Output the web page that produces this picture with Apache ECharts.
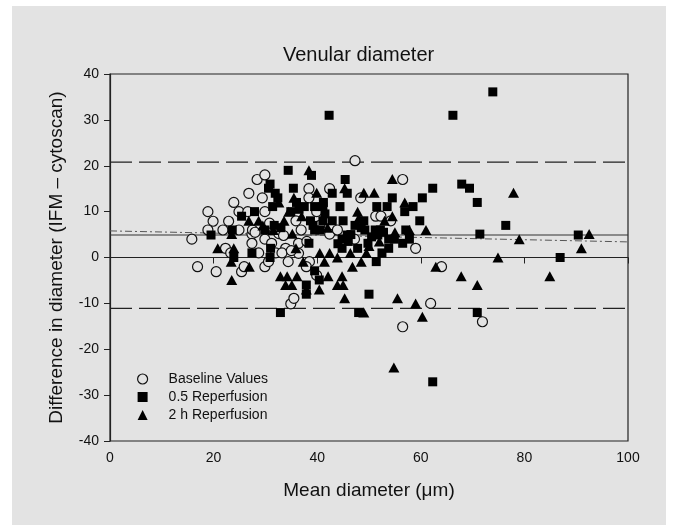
<!DOCTYPE html>
<html>
<head>
<meta charset="utf-8">
<script src="https://cdn.jsdelivr.net/npm/echarts@6/dist/echarts.min.js"></script>
<style>
  html, body { margin: 0; padding: 0; background: #fff; }
  #frame { position: absolute; left: 12px; top: 6px; width: 654px; height: 519px; background: #e3e3e3; }
  #chart { position: absolute; left: 0; top: 0; width: 677px; height: 531px; }
</style>
</head>
<body>
<div id="frame"></div>
<div id="chart"></div>
<script>
// [mean diameter, difference]
const baseline = [
  [15.8, 4.0], [16.9, -2.0], [18.9, 10.0], [19.9, 7.9], [18.9, 6.0], [20.5, -3.1], [21.8, 6.0],
  [22.9, 7.9], [23.9, 12.0], [22.3, 2.0], [23.3, 1.0], [24.9, 10.0], [24.9, 6.0], [25.4, -3.1],
  [25.9, -2.0], [26.8, 14.0], [27.4, 5.1], [27.4, 3.1], [28.4, 17.0], [29.4, 13.0], [29.9, 18.0],
  [29.9, 10.0], [29.9, 4.0], [28.7, 1.0], [29.9, -2.0], [30.6, -0.9], [27.5, 6.0], [26.6, 10.0],
  [31.2, 3.1], [32.6, 5.2], [32.0, 1.0], [33.9, 2.0], [33.2, 1.0], [34.4, -0.9], [34.9, -10.1],
  [35.5, -8.9], [35.9, 8.0], [36.4, 3.1], [36.4, 0.9], [36.9, 6.0], [38.4, 15.0], [38.4, 13.0],
  [38.5, -0.9], [37.9, -2.0], [39.9, 10.0], [39.9, -3.9], [42.4, 15.0], [42.4, 5.1], [43.9, 6.0],
  [47.2, 4.0], [47.3, 21.1], [48.4, 13.0], [51.3, 9.0], [52.3, 9.0], [54.2, 8.0], [56.5, 17.0],
  [59.0, 2.0], [56.5, -15.1], [61.9, -10.0], [64.0, -2.0], [71.9, -14.0], [28.0, 5.5], [31.5, 6.5],
  [30.8, 7.5], [35.0, 1.5], [38.0, 3.5], [40.5, 7.0], [33.5, 4.8]
];
const reperf05 = [
  [42.3, 31.0], [66.2, 31.0], [73.9, 36.1], [34.4, 19.0], [38.9, 17.9], [45.4, 17.0], [30.9, 16.0],
  [30.6, 15.1], [35.4, 15.1], [31.9, 14.0], [32.4, 13.0], [42.9, 14.0], [45.8, 14.0], [62.3, 15.1],
  [67.9, 16.0], [69.4, 15.1], [70.9, 12.0], [60.3, 13.0], [54.5, 13.0], [58.5, 11.1], [53.5, 11.1],
  [51.5, 11.1], [44.4, 11.1], [41.1, 11.1], [37.5, 11.1], [39.5, 11.1], [31.4, 11.1], [27.9, 10.0],
  [34.9, 10.0], [36.0, 12.0], [41.2, 12.0], [38.7, 8.0], [41.1, 8.0], [42.9, 8.0], [45.0, 8.0],
  [56.9, 10.0], [59.8, 8.0], [76.4, 7.0], [47.3, 7.0], [49.0, 8.0], [49.2, 6.0], [51.2, 6.0],
  [52.2, 6.0], [25.4, 9.0], [19.5, 4.9], [23.6, 6.0], [29.9, 6.0], [31.7, 7.0], [39.2, 7.0],
  [39.5, 6.0], [40.5, 6.0], [45.8, 4.9], [44.8, 4.0], [44.8, 2.0], [47.8, 2.0], [49.8, 3.1],
  [51.7, 4.9], [53.8, 4.0], [54.9, 4.0], [56.5, 3.1], [57.1, 6.0], [57.8, 4.0], [53.8, 2.0],
  [52.5, 1.0], [51.4, -0.9], [71.4, 5.1], [90.4, 4.9], [86.9, 0.0], [27.4, 1.0], [23.9, 0.0],
  [30.9, 0.0], [31.0, 2.0], [38.4, 3.1], [37.9, -6.0], [37.9, -8.0], [39.5, -2.9], [40.4, -4.9],
  [32.9, -12.0], [48.0, -12.0], [50.0, -8.0], [70.9, -12.0], [62.3, -27.1], [44.0, 3.0],
  [46.5, 5.0], [48.5, 6.5], [50.5, 4.5], [52.8, 5.5], [46.0, 3.5], [36.5, 10.5], [33.0, 6.5], [41.5, 9.5]
];
const reperf2h = [
  [38.4, 19.0], [54.5, 17.1], [45.3, 15.1], [77.9, 14.1], [39.9, 14.1], [49.0, 14.1], [51.0, 14.1],
  [35.5, 13.0], [32.6, 12.0], [56.9, 12.0], [47.8, 10.0], [54.5, 9.0], [53.0, 8.0], [34.5, 10.0],
  [26.8, 8.0], [28.7, 8.0], [33.6, 8.0], [61.0, 6.0], [57.8, 6.0], [35.2, 5.2], [79.0, 4.0],
  [92.5, 5.1], [91.0, 2.0], [20.8, 2.0], [23.9, 2.0], [23.5, 5.1], [23.4, -0.9], [23.5, -4.9],
  [26.9, -2.0], [35.9, 2.0], [37.3, -0.9], [40.5, 1.0], [42.4, 1.0], [43.9, 0.0], [46.4, 1.0],
  [48.5, -0.9], [49.5, 1.0], [41.4, -0.9], [46.8, -2.0], [32.9, -4.1], [34.2, -4.1], [36.1, -4.1],
  [33.9, -6.0], [35.1, -6.0], [42.1, -4.1], [44.8, -4.1], [43.9, -6.0], [45.0, -6.0], [40.4, -7.0],
  [37.9, -7.0], [45.3, -8.9], [55.5, -8.9], [59.0, -10.0], [49.0, -12.0], [60.3, -12.9],
  [62.9, -2.0], [67.8, -4.1], [70.9, -6.0], [74.9, 0.0], [84.9, -4.1], [54.8, -24.0],
  [29.5, 7.0], [31.5, 6.0], [37.0, 9.0], [42.0, 6.5], [48.0, 8.5], [50.0, 2.5], [52.0, 3.5], [55.0, 5.5]
];

// reference lines: mean difference, limits of agreement, regression
const meanLine = [[0, 4.9], [100, 4.9]];
const upperLimit = [[0, 20.8], [100, 20.8]];
const lowerLimit = [[0, -11.1], [100, -11.1]];
const trendLine = [[0, 5.8], [100, 3.4]];

const xTicks = { min: 0, max: 100, interval: 20 };
const yTicks = { min: -40, max: 40, interval: 10 };

const seriesNames = ['Baseline Values', '0.5 Reperfusion', '2 h Reperfusion'];

const chart = echarts.init(document.getElementById('chart'));

const refLine = (data, type, width, color) => ({
  type: 'line',
  data: data,
  symbol: 'none',
  silent: true,
  lineStyle: { type: type, width: width, color: color },
  z: 1
});

chart.setOption({
  animation: false,
  backgroundColor: 'transparent',
  title: {
    text: 'Venular diameter',
    left: 278,
    top: 40,
    textStyle: { fontFamily: 'Liberation Sans', fontSize: 20, fontWeight: 'normal', color: '#111' }
  },
  grid: {
    left: 110, right: 49, top: 74, bottom: 90,
    show: true, borderColor: '#222', borderWidth: 1.2, backgroundColor: 'transparent'
  },
  legend: {
    orient: 'vertical',
    left: 132,
    top: 367,
    itemWidth: 10,
    itemHeight: 10,
    itemGap: 4,
    data: [
      { name: seriesNames[0], icon: 'circle', itemStyle: { color: '#e3e3e3', borderColor: '#111', borderWidth: 1.2 } },
      { name: seriesNames[1], icon: 'rect' },
      { name: seriesNames[2], icon: 'triangle' }
    ],
    textStyle: { fontFamily: 'Liberation Sans', fontSize: 14, lineHeight: 14, color: '#111', padding: [0, 0, 0, 16] }
  },
  xAxis: {
    type: 'value',
    min: xTicks.min, max: xTicks.max, interval: xTicks.interval,
    name: 'Mean diameter (\u03bcm)',
    nameLocation: 'middle',
    nameGap: 40,
    nameTextStyle: { fontFamily: 'Liberation Sans', fontSize: 19, color: '#111' },
    axisLine: { lineStyle: { color: '#222', width: 1.2 } },
    axisTick: { length: 6, lineStyle: { color: '#222' } },
    axisLabel: { fontFamily: 'Liberation Sans', fontSize: 14, color: '#111', margin: 10 },
    splitLine: { show: false }
  },
  yAxis: {
    type: 'value',
    min: yTicks.min, max: yTicks.max, interval: yTicks.interval,
    name: 'Difference in diameter (IFM \u2013 cytoscan)',
    nameLocation: 'middle',
    nameGap: 44,
    nameTextStyle: { fontFamily: 'Liberation Sans', fontSize: 19, color: '#111' },
    axisLine: { lineStyle: { color: '#222', width: 1.2 } },
    axisTick: { length: 6, lineStyle: { color: '#222' } },
    axisLabel: { fontFamily: 'Liberation Sans', fontSize: 14, color: '#111', margin: 11 },
    splitLine: { show: false }
  },
  series: [
    refLine(upperLimit, [22, 7], 1.3, '#222'),
    refLine(lowerLimit, [22, 7], 1.3, '#222'),
    refLine(meanLine, 'solid', 1.2, '#333'),
    refLine(trendLine, [7, 3, 2, 3], 1, '#555'),
    {
      name: seriesNames[0],
      type: 'scatter',
      data: baseline,
      symbol: 'circle',
      symbolSize: 10,
      itemStyle: { color: '#e3e3e3', borderColor: '#111', borderWidth: 1.2, opacity: 1 },
      z: 2
    },
    {
      name: seriesNames[1],
      type: 'scatter',
      data: reperf05,
      symbol: 'rect',
      symbolSize: 9,
      itemStyle: { color: '#000', opacity: 1 },
      z: 3
    },
    {
      name: seriesNames[2],
      type: 'scatter',
      data: reperf2h,
      symbol: 'triangle',
      symbolSize: [11, 10],
      itemStyle: { color: '#000', opacity: 1 },
      z: 4
    }
  ]
});
</script>
</body>
</html>
